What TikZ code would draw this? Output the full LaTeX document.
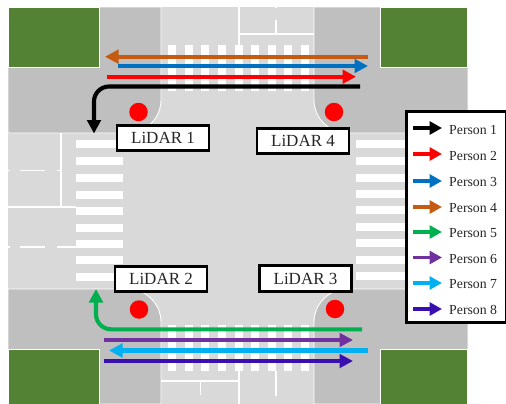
\documentclass[tikz,border=0pt]{standalone}
\usepackage{fontspec}
\setmainfont{Liberation Serif}
\usetikzlibrary{arrows.meta}
\definecolor{roadc}{HTML}{D9D9D9}
\definecolor{walkc}{HTML}{BFBFBF}
\definecolor{grassc}{HTML}{548235}
\definecolor{pone}{HTML}{000000}
\definecolor{ptwo}{HTML}{FF0000}
\definecolor{pthree}{HTML}{0070C0}
\definecolor{pfour}{HTML}{C55A11}
\definecolor{pfive}{HTML}{00B050}
\definecolor{psix}{HTML}{7030A0}
\definecolor{pseven}{HTML}{00B0F0}
\definecolor{peight}{HTML}{3A0FB0}
\tikzset{
  walkfill/.style={fill=walkc,draw=white,line width=0.9pt},
  grass/.style={fill=grassc,draw=white,line width=0.9pt},
  roadline/.style={draw=white,line width=1.3pt},
  stripe/.style={fill=white,draw=none},
  trail/.style={line width=4.1pt,rounded corners=15pt},
  headed/.style={trail,-{Triangle[length=13.5pt,width=13.5pt]}},
  dot/.style={circle,fill=red,draw=none,minimum size=18.5pt,inner sep=0pt},
  lidar/.style={draw=black,fill=white,line width=2.6pt,minimum width=92pt,minimum height=25.5pt,inner sep=0pt,font=\fontsize{17}{18}\selectfont,text=black!85},
  legendbox/.style={draw=black,fill=white,line width=3pt,inner sep=0pt},
  legendtext/.style={anchor=west,inner sep=0pt,font=\fontsize{13.8}{15}\selectfont,text=black!85},
  keyarrow/.style={line width=3.6pt,-{Triangle[length=12.5pt,width=13pt]}}
}
\begin{document}
\begin{tikzpicture}[x=1pt,y=-1pt]
\useasboundingbox (0,0) rectangle (506,404);
% ground
\fill[roadc] (8,7) rectangle (468,404);
% corner pavements
\path[walkfill] (8,7) -- (161,7) -- (161,100) .. controls (161,118) and (146,133) .. (128,133) -- (8,133) -- cycle;
\path[walkfill] (468,7) -- (314,7) -- (314,100) .. controls (314,118) and (329,133) .. (347,133) -- (468,133) -- cycle;
\path[walkfill] (8,404) -- (161,404) -- (161,322) .. controls (161,304) and (146,289) .. (128,289) -- (8,289) -- cycle;
\path[walkfill] (468,404) -- (314,404) -- (314,322) .. controls (314,304) and (329,289) .. (347,289) -- (468,289) -- cycle;
\fill[white] (467.6,5) rectangle (470,404);
\fill[white] (5,5) rectangle (506,7);
\fill[white] (5,5) rectangle (8,404);
% grass
\path[grass] (8,7) rectangle (99,67.5);
\path[grass] (380,7) rectangle (467.5,67.5);
\path[grass] (8,349) rectangle (99,404);
\path[grass] (380,349) rectangle (467.5,404);
% lane markings, top
\path[roadline] (239,7) -- (239,45);
\path[roadline] (239,34) -- (314,34);
\path[roadline] (276,7) -- (276,8.5);
\path[roadline] (276,20) -- (276,34);
% lane markings, bottom
\path[roadline] (161,381) -- (239,381);
\path[roadline] (239,371) -- (239,404);
\path[roadline] (200.5,382) -- (200.5,395);
\path[roadline] (276,371) -- (276,396);
% lane markings, left
\path[roadline] (61,133) -- (61,207);
\path[roadline] (8,207) -- (76,207);
\path[roadline] (8,170.5) -- (9.5,170.5);
\path[roadline] (20,170.5) -- (45,170.5);
\path[roadline] (57,170.5) -- (61,170.5);
\path[roadline] (8,247) -- (10,247);
\path[roadline] (20,247) -- (45,247);
\path[roadline] (57,247) -- (76,247);
% crosswalks
\foreach \sx in {167.5,184.5,201,218,234.5,251,267.5,284,300.5}{
  \fill[stripe] (\sx,45) rectangle ++(8,46);
  \fill[stripe] (\sx,325) rectangle ++(8,46);
}
\foreach \sy in {140,157,174,191,207,224,240,256,273}{
  \fill[stripe] (76,\sy) rectangle ++(46.5,8);
}
\foreach \sy in {140,157,174,190,206,223,239,256,272}{
  \fill[stripe] (356,\sy) rectangle ++(50,8);
}
% free ends of the paths
\coordinate (p1s) at (360,86.5);
\coordinate (p1c) at (94,86.5);
\coordinate (p1e) at (94,133.5);
\coordinate (p2s) at (107,76.7);
\coordinate (p2e) at (356,76.7);
\coordinate (p3s) at (118,66);
\coordinate (p3e) at (368,66);
\coordinate (p4s) at (368,56.7);
\coordinate (p4e) at (105,56.7);
\coordinate (p5s) at (362,329.3);
\coordinate (p5c) at (96,329.3);
\coordinate (p5e) at (96,289);
\coordinate (p6s) at (104,340);
\coordinate (p6e) at (353,340);
\coordinate (p7s) at (368,350.5);
\coordinate (p7e) at (109,350.5);
\coordinate (p8s) at (104,361);
\coordinate (p8e) at (353,361);
\draw[headed,pfour] (p4s) -- (p4e);
\draw[headed,pthree] (p3s) -- (p3e);
\draw[headed,ptwo] (p2s) -- (p2e);
\draw[headed,pone] (p1s) -- (p1c) -- (p1e);
\draw[headed,pfive] (p5s) -- (p5c) -- (p5e);
\draw[headed,psix] (p6s) -- (p6e);
\draw[headed,pseven] (p7s) -- (p7e);
\draw[headed,peight] (p8s) -- (p8e);
% sensors
\node[dot] (d1) at (138.5,112) {};
\node[dot] (d4) at (334,112) {};
\node[dot] (d2) at (139,309.5) {};
\node[dot] (d3) at (335,309) {};
\node[lidar] (l1) at (163,138) {LiDAR 1};
\node[lidar] (l4) at (303,141) {LiDAR 4};
\node[lidar] (l2) at (161,279) {LiDAR 2};
\node[lidar] (l3) at (305.5,278.5) {LiDAR 3};
% legend
\node[legendbox,minimum width=100pt,minimum height=211pt] (legend) at (456.5,217) {};
\foreach \n/\c/\ay/\ty in {1/pone/128/130,2/ptwo/154/156,3/pthree/181/181.5,4/pfour/207/208,5/pfive/232/233.5,6/psix/257.5/259,7/pseven/283/284,8/peight/309/310}{
  \coordinate (ka\n) at (413,\ay);
  \coordinate (kb\n) at (442,\ay);
  \draw[keyarrow,\c] (ka\n) -- (kb\n);
  \node[legendtext] (kt\n) at (449,\ty) {Person \n};
}
\end{tikzpicture}
\end{document}
